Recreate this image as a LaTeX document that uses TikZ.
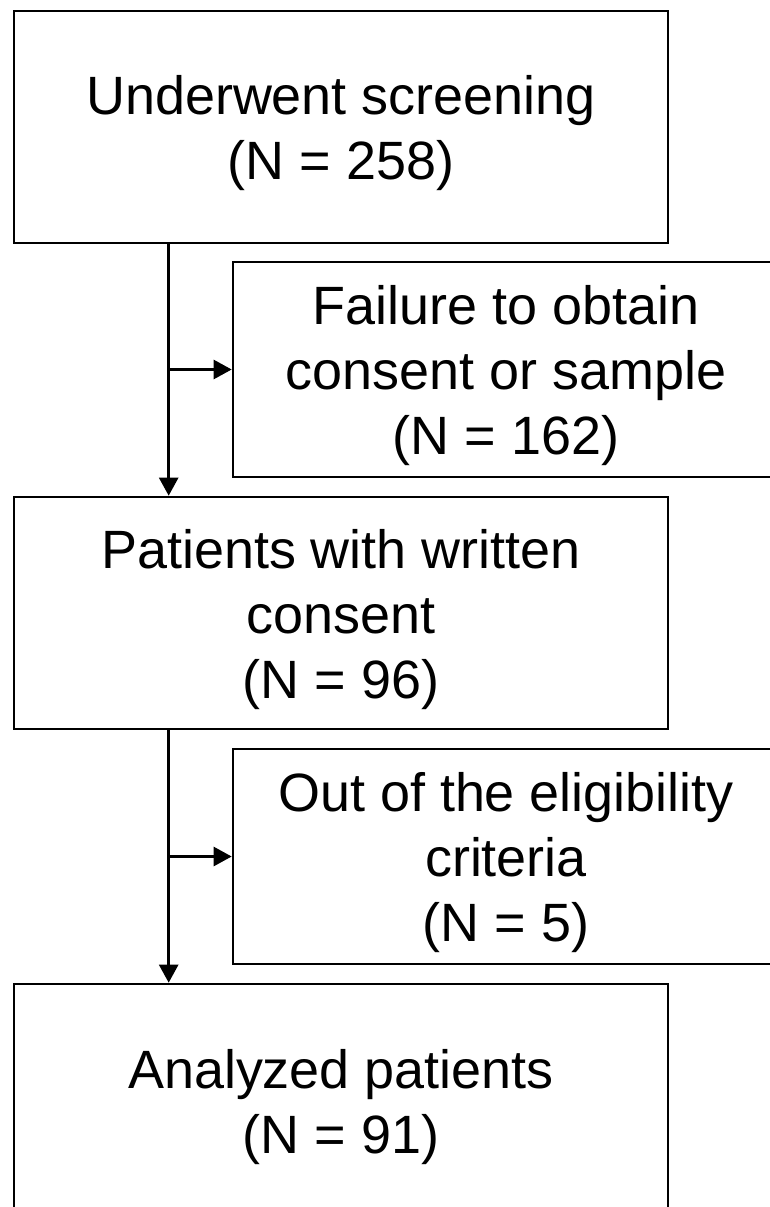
\documentclass[tikz,border=0pt]{standalone}
\usepackage{fontspec}
\setmainfont{Liberation Sans}
\usetikzlibrary{arrows.meta}

\newcommand{\capgap}{\rule{0pt}{1.03cm}}

\begin{document}
\begin{tikzpicture}[font=\fontsize{30.7}{37}\selectfont, line width=1.5pt]
    \tikzstyle{stage}=[draw=black,rectangle,align=center,minimum width=13.08cm,minimum height=4.64cm,inner sep=0pt]
    \tikzstyle{excluded}=[draw=black,rectangle,align=center,minimum width=10.92cm,minimum height=4.3cm,inner sep=0pt]
    \tikzstyle{flow}=[-{Triangle[length=0.36cm,width=0.38cm]}]

    \useasboundingbox (0,0) rectangle (15.38,-24.14);

    \node[stage] (screened) at (6.82,-2.54) {\capgap Underwent screening\\(N = 258)};
    \node[excluded] (nosample) at (10.12,-7.39) {\capgap Failure to obtain\\consent or sample\\(N = 162)};
    \node[stage] (consented) at (6.82,-12.26) {\capgap Patients with written\\consent\\(N = 96)};
    \node[excluded] (ineligible) at (10.12,-17.13) {\capgap Out of the eligibility\\criteria\\(N = 5)};
    \node[stage,minimum height=4.66cm] (analyzed) at (6.82,-22.01) {\capgap Analyzed patients\\(N = 91)};

    \coordinate (split1) at ([xshift=3.12cm]screened.south west);
    \coordinate (split2) at ([xshift=3.12cm]consented.south west);

    \draw[flow] (split1) -- (split1 |- consented.north);
    \draw[flow] (split1 |- nosample.west) -- (nosample.west);

    \draw[flow] (split2) -- (split2 |- analyzed.north);
    \draw[flow] (split2 |- ineligible.west) -- (ineligible.west);
\end{tikzpicture}
\end{document}
